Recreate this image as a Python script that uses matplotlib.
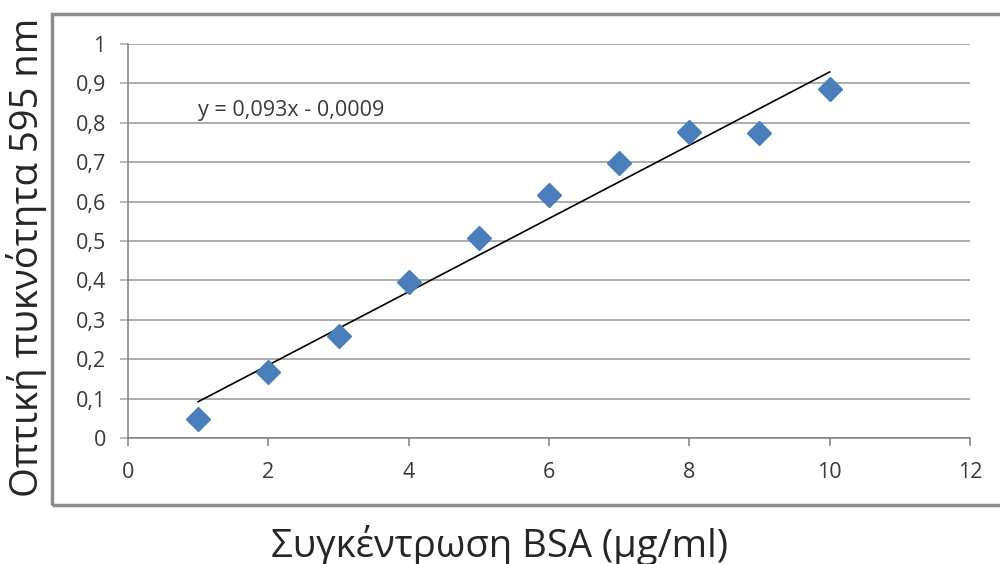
import numpy as np
import matplotlib
matplotlib.use('Agg')
import matplotlib.pyplot as plt
from matplotlib.patches import Rectangle

plt.rcParams['font.family'] = ['Open Sans', 'DejaVu Sans']

# data
conc = [1, 2, 3, 4, 5, 6, 7, 8, 9, 10]
absorb = [0.048, 0.168, 0.259, 0.395, 0.507, 0.616, 0.697, 0.777, 0.775, 0.885]
slope = 0.093
intercept = -0.0009
eq_text = 'y = 0,093x - 0,0009'
yticks = [0, 0.1, 0.2, 0.3, 0.4, 0.5, 0.6, 0.7, 0.8, 0.9, 1]
ytick_labels = ['0', '0,1', '0,2', '0,3', '0,4', '0,5', '0,6', '0,7', '0,8', '0,9', '1']
xticks = [0, 2, 4, 6, 8, 10, 12]
xlabel = 'Συγκέντρωση BSA (μg/ml)'
ylabel = 'Οπτική πυκνότητα 595 nm'

fig = plt.figure(figsize=(10, 5.64), dpi=100)
fig.patch.set_facecolor('white')

# outer chart frame (runs off the right edge like the screenshot)
frame = Rectangle((0.052, 0.105), 1.0, 0.87, transform=fig.transFigure,
                  fill=False, edgecolor='#8c8c8c', linewidth=2.5, clip_on=False)
fig.patches.append(frame)

ax = fig.add_axes([0.128, 0.2234, 0.842, 0.6986])
ax.set_xlim(0, 12)
ax.set_ylim(0, 1)

ax.set_yticks(yticks)
ax.set_yticklabels(ytick_labels)
ax.set_xticks(xticks)
ax.grid(axis='y', color='#a6a6a6', linewidth=1.3)
ax.set_axisbelow(True)

for s in ['top', 'right']:
    ax.spines[s].set_visible(False)
for s in ['left', 'bottom']:
    ax.spines[s].set_color('#808080')
    ax.spines[s].set_linewidth(1.1)

ax.tick_params(axis='y', length=6, width=1.1, color='#a6a6a6', pad=10,
               labelsize=15.5, labelcolor='#3a3a3a')
ax.tick_params(axis='x', length=6, width=1.1, color='#808080', pad=11,
               labelsize=15.5, labelcolor='#3a3a3a')

# trendline from fitted coefficients
xl = np.array([conc[0], conc[-1]])
ax.plot(xl, slope * xl + intercept, color='black', linewidth=1.2, zorder=2)

ax.plot(conc, absorb, linestyle='none', marker='D', markersize=12,
        color='#4a7ebb', markeredgecolor='#4a7ebb', zorder=3)

ax.text(1.0, 0.83, eq_text, fontsize=15.5, color='#3a3a3a', va='center', ha='left')

fig.text(0.5, 0.033, xlabel, fontsize=27.5, color='#262626', ha='center', va='center')
fig.text(0.027, 0.544, ylabel, fontsize=27.5, color='#262626', ha='center', va='center',
         rotation=90)

fig.savefig('out.png', dpi=100, facecolor='white')
